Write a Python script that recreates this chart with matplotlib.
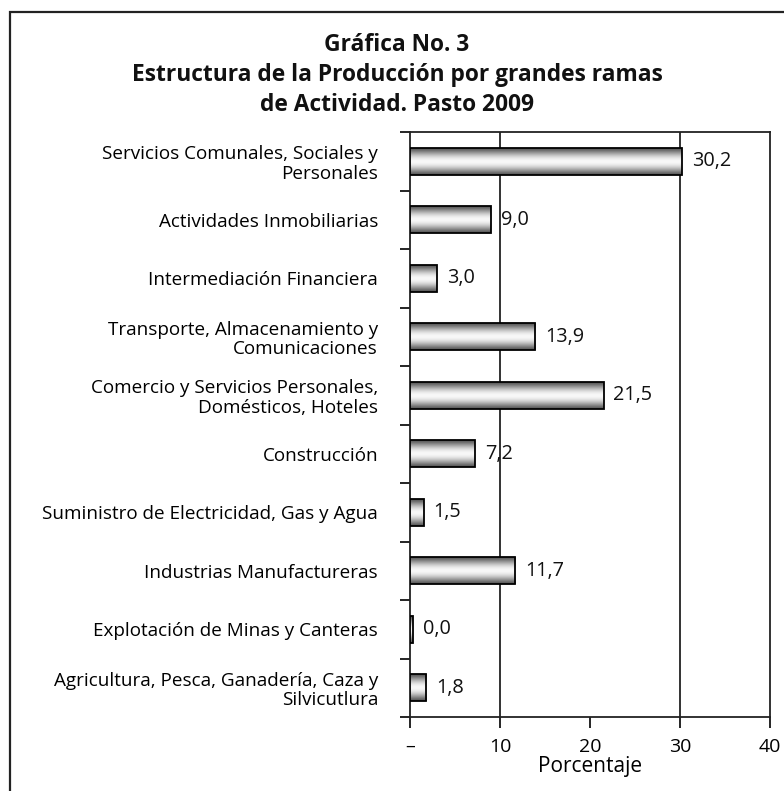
import matplotlib
matplotlib.use("Agg")
import matplotlib.pyplot as plt
import numpy as np
from matplotlib.patches import Rectangle

categories = [
    "Servicios Comunales, Sociales y\nPersonales",
    "Actividades Inmobiliarias",
    "Intermediación Financiera",
    "Transporte, Almacenamiento y\nComunicaciones",
    "Comercio y Servicios Personales,\nDomésticos, Hoteles",
    "Construcción",
    "Suministro de Electricidad, Gas y Agua",
    "Industrias Manufactureras",
    "Explotación de Minas y Canteras",
    "Agricultura, Pesca, Ganadería, Caza y\nSilvicutlura",
]
values = [30.2, 9.0, 3.0, 13.9, 21.5, 7.2, 1.5, 11.7, 0.0, 1.8]
value_labels = ["30,2", "9,0", "3,0", "13,9", "21,5", "7,2", "1,5", "11,7", "0,0", "1,8"]
xticks = [0, 10, 20, 30, 40]
xtick_labels = ["–", "10", "20", "30", "40"]
gridlines_at = [10, 30]
title = "Gráfica No. 3\nEstructura de la Producción por grandes ramas\nde Actividad. Pasto 2009"

plt.rcParams['font.family'] = ['Open Sans', 'DejaVu Sans']

fig = plt.figure(figsize=(7.84, 7.91), dpi=100)
W, H = 784, 791
ax = fig.add_axes([410 / W, 1 - 717 / H, 360 / W, 585 / H])

# outer frame
fig.patches.append(Rectangle((10 / W, -0.1), 1.2, 1 - 12 / H + 0.1, transform=fig.transFigure,
                             fill=False, edgecolor="#222222", linewidth=1.6))

n = len(categories)
ypos = np.arange(n)[::-1]
bar_h = 0.46

# gradient: dark at top/bottom edges, light in middle
g = np.linspace(0, 1, 64)
shade = 0.33 + 0.64 * np.sin(np.pi * g) ** 1.3
grad = np.repeat(shade[:, None], 2, axis=1)

for xg in gridlines_at:
    ax.axvline(xg, color="#222222", linewidth=1.3, zorder=1)

for y, v in zip(ypos, values):
    w = max(v, 0.3)
    ax.imshow(grad, cmap="gray", vmin=0, vmax=1, aspect="auto",
              extent=[0, w, y - bar_h / 2, y + bar_h / 2], zorder=3, interpolation="bilinear")
    ax.add_patch(Rectangle((0, y - bar_h / 2), w, bar_h, fill=False,
                           edgecolor="black", linewidth=1.3, zorder=4))

for y, v, lab in zip(ypos, values, value_labels):
    ax.text(max(v, 0.3) + 1.1, y, lab, va="center", ha="left", fontsize=14.3, color="#111111", zorder=5)

ax.set_xlim(0, 40)
ax.set_ylim(-0.5, n - 0.5)
ax.set_xticks(xticks)
ax.set_xticklabels(xtick_labels, fontsize=14)
ax.set_yticks(ypos)
ax.set_yticklabels(categories, fontsize=13.6, linespacing=1.12)
ax.set_yticks(np.arange(n + 1) - 0.5, minor=True)
ax.tick_params(axis="y", which="major", length=0, pad=23)
ax.tick_params(axis="y", which="minor", length=7, width=1.2, direction="out")
ax.tick_params(axis="x", which="major", length=8, width=1.2, direction="out", pad=7)
for lab in ax.get_yticklabels():
    lab.set_multialignment("right")

for s in ax.spines.values():
    s.set_linewidth(1.3)
    s.set_color("#222222")

ax.set_xlabel("Porcentaje", fontsize=15, labelpad=0)

fig.text(397 / W, 1 - 75 / H, title, ha="center", va="center", fontsize=16.4,
         fontweight="bold", linespacing=1.32, color="#111111")

fig.savefig("out.png", dpi=100)
